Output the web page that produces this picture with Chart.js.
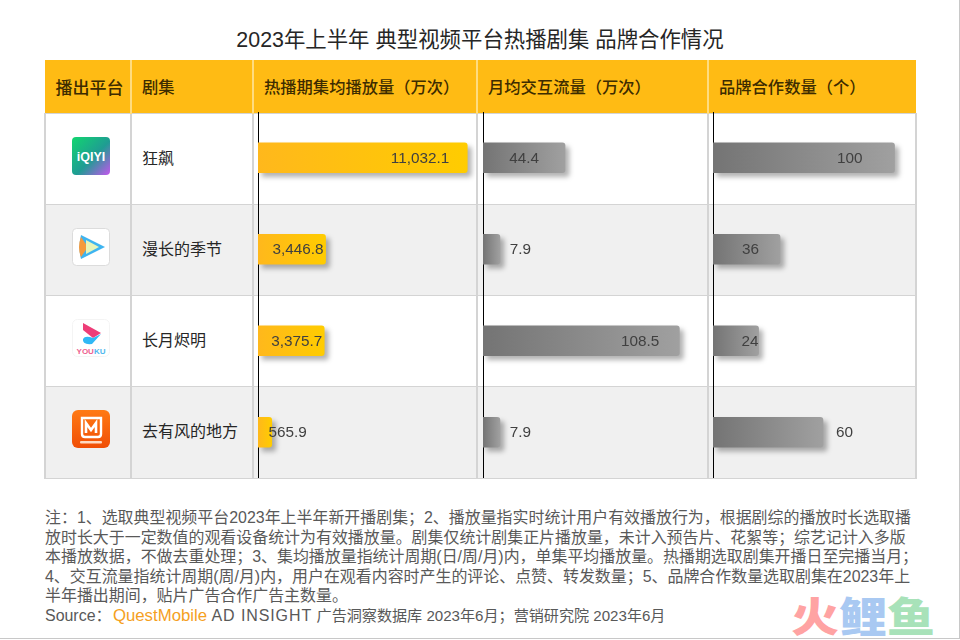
<!DOCTYPE html>
<html>
<head>
<meta charset="utf-8">
<script src="https://cdn.jsdelivr.net/npm/chart.js@4"></script>
<style>
html, body { margin: 0; padding: 0; background: #fff; }
body { position: relative; width: 960px; height: 640px; overflow: hidden; font-family: "Liberation Sans", "Noto Sans CJK SC", sans-serif; }
#frame { position: absolute; left: 0; top: 0; width: 959px; height: 638px; border-right: 1px solid #c8c8c8; border-bottom: 1px solid #c8c8c8; }
#title { position: absolute; left: 0; top: 26px; width: 960px; text-align: center; font-size: 21.4px; line-height: 28px; color: #262626; white-space: nowrap; }
table { position: absolute; left: 44px; top: 60px; width: 871px; table-layout: fixed; border-collapse: collapse; }
th { height: 53px; background: #ffbb14; color: #3d2c00; font-size: 16.3px; font-weight: 500; text-align: left; padding: 0 0 0 10px; border-left: 2px solid #ffdc80; white-space: nowrap; box-sizing: border-box; }
th:first-child { text-align: center; padding: 0 0 0 4px; border-left: none; font-size: 17px; }
td { height: 91.25px; padding: 0 0 4px 10px; font-size: 16px; color: #262626; border: 2px solid #d4d4d4; border-top-width: 1px; border-bottom-width: 1px; box-sizing: border-box; white-space: nowrap; }
tbody tr:nth-child(even) td { background: #f0f0f0; }
td.logo { padding: 0; text-align: center; }
td.logo svg { display: block; margin: 0 auto; position: relative; left: 3px; top: -3px; }
.bar-chart { position: absolute; top: 112px; height: 366px; }
#notes { position: absolute; left: 45px; top: 508px; font-size: 15.95px; line-height: 19.6px; color: #595959; white-space: nowrap; }
#notes div { height: 19.6px; }
#notes b { font-weight: normal; font-size: 16.8px; color: #f5a01e; margin-left: -3px; }
#notes i { font-style: normal; font-size: 15.1px; }
#notes u { text-decoration: none; font-size: 16px; letter-spacing: 0.9px; }
#mark { position: absolute; left: 791px; top: 590px; font-size: 48px; line-height: 50px; font-weight: 900; white-space: nowrap; transform: scaleY(0.86); transform-origin: left bottom; }
</style>
</head>
<body>
<div id="frame"></div>
<div id="title">2023年上半年 典型视频平台热播剧集 品牌合作情况</div>
<table id="grid">
	<colgroup><col style="width:86px"><col style="width:122px"><col style="width:224px"><col style="width:231px"><col style="width:208px"></colgroup>
	<thead><tr id="head"></tr></thead>
	<tbody id="rows"></tbody>
</table>
<div class="bar-chart" style="left:258px;width:218px"><canvas id="playChart"></canvas></div>
<div class="bar-chart" style="left:483px;width:224px"><canvas id="trafficChart"></canvas></div>
<div class="bar-chart" style="left:713px;width:203px"><canvas id="brandChart"></canvas></div>
<div id="notes"></div>
<div id="mark"><span style="color:#ffa3a3">火</span><span style="color:#a9c9f2">鲤</span><span style="color:#a8e2b9">鱼</span></div>

<script>
// Data arrays
const headers = ["播出平台", "剧集", "热播期集均播放量（万次）", "月均交互流量（万次）", "品牌合作数量（个）"];
const dramas = ["狂飙", "漫长的季节", "长月烬明", "去有风的地方"];
const playValues = [11032.1, 3446.8, 3375.7, 565.9];
const trafficValues = [44.4, 7.9, 108.5, 7.9];
const brandValues = [100, 36, 24, 60];

const noteLines = [
	"注：1、选取典型视频平台2023年上半年新开播剧集；2、播放量指实时统计用户有效播放行为，根据剧综的播放时长选取播",
	"放时长大于一定数值的观看设备统计为有效播放量。剧集仅统计剧集正片播放量，未计入预告片、花絮等；综艺记计入多版",
	"本播放数据，不做去重处理；3、集均播放量指统计周期(日/周/月)内，单集平均播放量。热播期选取剧集开播日至完播当月；",
	"4、交互流量指统计周期(周/月)内，用户在观看内容时产生的评论、点赞、转发数量；5、品牌合作数量选取剧集在2023年上",
	"半年播出期间，贴片广告合作广告主数量。"
];

// platform logos, drawn by hand
const logos = [
	`<svg width="38" height="38" viewBox="0 0 38 38"><defs><linearGradient id="iq" x1="0" y1="0" x2="1" y2="1"><stop offset="0" stop-color="#12d66f"/><stop offset=".55" stop-color="#1f9c93"/><stop offset="1" stop-color="#c455ee"/></linearGradient></defs><rect width="38" height="38" rx="4" fill="url(#iq)"/><text x="19" y="24" text-anchor="middle" font-size="12.5" font-weight="bold" fill="#fff">iQIYI</text></svg>`,
	`<svg width="38" height="38" viewBox="0 0 38 38"><rect x=".5" y=".5" width="37" height="37" rx="4" fill="#fff" stroke="#dcdcdc"/><path d="M9 7 L33 19 L9 31 Q6 19 9 7Z" fill="#3eb4f0"/><path d="M9 9 Q5 19 9 29 L16 19Z" fill="#f59a3c"/><path d="M14 12 L27 19 L14 26Z" fill="#e8f5b8"/></svg>`,
	`<svg width="38" height="38" viewBox="0 0 38 38"><rect x=".5" y=".5" width="37" height="37" rx="5" fill="#fff" stroke="#f4f4f4"/><path d="M11 4 L29 14 L21 19 L11 11Z" fill="#ee3d78"/><path d="M29 15 L20 25 Q10 26 11 20 Q13 16 21 19Z" fill="#30b8f5"/><text x="19" y="35" text-anchor="middle" font-size="8" font-weight="bold" fill="#ee5f8f">YOU<tspan fill="#50b8ee">KU</tspan></text></svg>`,
	`<svg width="38" height="38" viewBox="0 0 38 38"><defs><linearGradient id="mg" x1="0" y1="0" x2="0" y2="1"><stop offset="0" stop-color="#ff7a14"/><stop offset="1" stop-color="#f04e06"/></linearGradient></defs><rect width="38" height="38" rx="6" fill="url(#mg)"/><path d="M10 24 V8 H29 V24 Q29 27 26 27 H13 Q10 27 10 24Z" fill="none" stroke="#fff" stroke-width="2.4"/><path d="M14 23 V13 L19 20 L24 13 V23" fill="none" stroke="#fff" stroke-width="2.6"/><rect x="8" y="31" width="22" height="2.5" rx="1" fill="#ffd9c0"/></svg>`
];

// table
headers.forEach((h) => {
	const th = document.createElement("th");
	th.textContent = h;
	document.getElementById("head").appendChild(th);
});
dramas.forEach((name, i) => {
	const tr = document.createElement("tr");
	tr.innerHTML = `<td class="logo">${logos[i]}</td><td>${name}</td><td></td><td></td><td></td>`;
	document.getElementById("rows").appendChild(tr);
});

// footnote
const notes = document.getElementById("notes");
notes.innerHTML = noteLines.map((l) => `<div>${l}</div>`).join("") +
	`<div>Source：&nbsp;<b>QuestMobile</b> <u>AD INSIGHT</u> <i>广告洞察数据库 2023年6月；营销研究院 2023年6月</i></div>`;

// shadow under the bars
const barShadow = {
	id: "barShadow",
	beforeDatasetDraw(chart) {
		const ctx = chart.ctx;
		ctx.save();
		ctx.shadowColor = "rgba(0,0,0,0.3)";
		ctx.shadowBlur = 5;
		ctx.shadowOffsetX = 4;
		ctx.shadowOffsetY = 4;
	},
	afterDatasetDraw(chart) {
		chart.ctx.restore();
	},
};

// value labels, right edge placed relative to the end of each bar
const barLabels = {
	id: "barLabels",
	afterDatasetsDraw(chart, args, opts) {
		const ctx = chart.ctx;
		const ds = chart.data.datasets[0];
		const bars = chart.getDatasetMeta(0).data;
		ctx.save();
		ctx.font = '15.3px "Liberation Sans"';
		ctx.fillStyle = "#404040";
		ctx.textAlign = "right";
		ctx.textBaseline = "middle";
		bars.forEach((bar, i) => {
			ctx.fillText(opts.format(ds.data[i]), bar.x + opts.offsets[i], bar.y + 1);
		});
		ctx.restore();
	},
};

function makeBarChart(id, values, min, max, colorFrom, colorTo, format, offsets) {
	new Chart(document.getElementById(id), {
		type: "bar",
		data: {
			labels: dramas,
			datasets: [
				{
					data: values,
					base: min,
					barThickness: 30,
					borderRadius: { topRight: 3, bottomRight: 3 },
					borderSkipped: false,
					backgroundColor: function (c) {
						const area = c.chart.chartArea;
						if (!area || c.raw === undefined) return colorFrom;
						const scale = c.chart.scales.x;
						const g = c.chart.ctx.createLinearGradient(scale.getPixelForValue(min), 0, scale.getPixelForValue(c.raw), 0);
						g.addColorStop(0, colorFrom);
						g.addColorStop(1, colorTo);
						return g;
					},
				},
			],
		},
		options: {
			indexAxis: "y",
			responsive: true,
			maintainAspectRatio: false,
			animation: false,
			layout: { padding: 0 },
			plugins: {
				legend: { display: false },
				tooltip: { enabled: false },
				barLabels: { format: format, offsets: offsets },
			},
			scales: {
				x: { display: false, min: min, max: max },
				y: {
					ticks: { display: false },
					grid: { display: false, drawTicks: false },
					border: { color: "#000", width: 1 },
				},
			},
		},
		plugins: [barShadow, barLabels],
	});
}

const oneDecimal = (v) => v.toLocaleString("en-US", { minimumFractionDigits: 1, maximumFractionDigits: 1 });

makeBarChart("playChart", playValues, -170, 11500, "#ffb81c", "#ffcc00", oneDecimal, [-18, -2, -2, 35]);
makeBarChart("trafficChart", trafficValues, -1.6, 124, "#747474", "#a0a0a0", oneDecimal, [-26, 31, -20, 31]);
makeBarChart("brandChart", brandValues, -1.5, 112, "#747474", "#a0a0a0", (v) => String(v), [-32, -21, 0, 30]);
</script>
</body>
</html>
